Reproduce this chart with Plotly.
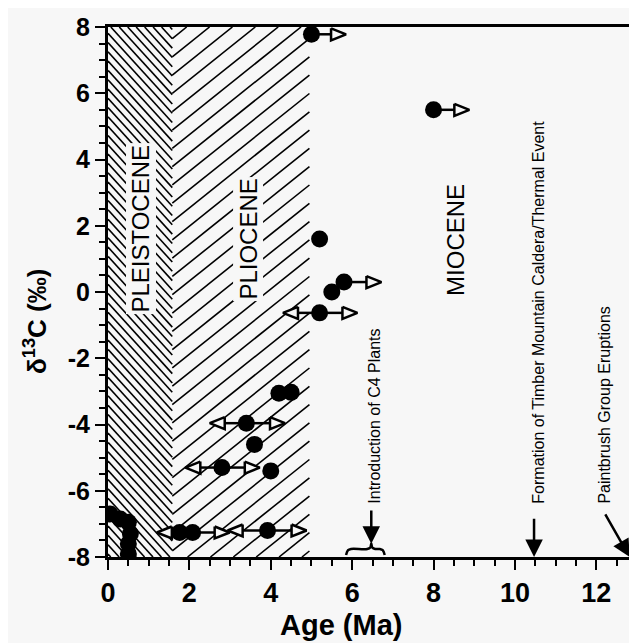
import plotly.graph_objects as go

# ---------------- data ----------------
age = [5.0, 8.0, 5.2, 5.5, 5.8, 5.2, 4.2, 4.5, 3.4, 3.6, 2.8, 4.0,
       1.76, 2.08, 3.92, 0.05, 0.3, 0.5, 0.55, 0.5, 0.5]
d13c = [7.78, 5.5, 1.6, 0.0, 0.3, -0.63, -3.06, -3.03, -3.96, -4.6, -5.3, -5.4,
        -7.26, -7.26, -7.2, -6.7, -6.85, -6.95, -7.3, -7.6, -7.9]
# age-range arrow tips (None = no arrow)
arrow_left = [None, None, None, None, None, 4.3, None, None, 2.5, None, 1.9, None,
              1.2, None, 2.94, None, None, None, None, None, None]
arrow_right = [5.85, 8.88, None, None, 6.72, 6.13, None, None, 4.35, None, 3.73, None,
               None, 2.99, 4.88, None, None, None, None, None, None]

epoch_names = ["PLEISTOCENE", "PLIOCENE", "MIOCENE"]
epoch_label_x = [0.8, 3.43, 8.55]
epoch_label_y = [1.9, 1.6, 1.57]
pleistocene_span = [0.0, 1.58]
pliocene_span = [1.58, 4.95]

event_names = ["Introduction of C4 Plants",
               "Formation of Timber Mountain Caldera/Thermal Event",
               "Paintbrush Group Eruptions"]
event_label_x = [6.55, 10.58, 12.2]
event_arrow_tail = [(6.47, -6.55), (10.47, -6.8), (12.2, -6.67)]
event_arrow_head = [(6.47, -7.6), (10.47, -8.0), (12.82, -8.0)]
brace_span = [5.85, 6.8]
brace_tip = 6.47

x_range = [0, 13]
y_range = [-8, 8]
x_ticks = [0, 2, 4, 6, 8, 10, 12]
x_tick_labels = ["0", "2", "4", "6", "8", "10", "12"]
y_ticks = [-8, -6, -4, -2, 0, 2, 4, 6, 8]
y_tick_labels = ["-8", "-6", "-4", "-2", "0", "2", "4", "6", "8"]

# ---------------- layout geometry ----------------
OFF = 8                      # page body margin
WIN_W, WIN_H = 637, 643
plot_l, plot_t, plot_r, plot_b = 108, 27, 637, 557   # plot area in window px
ml, mt = plot_l - OFF, plot_t - OFF
W = plot_r - OFF
mr = 0
H = WIN_H - OFF
mb = H - (plot_b - OFF)
pw, ph = plot_r - plot_l, plot_b - plot_t
ux = (x_range[1] - x_range[0]) / pw   # data per px
uy = (y_range[1] - y_range[0]) / ph


def paper_x(win_px):
    return (win_px - plot_l) / pw


def paper_y(win_py):
    return (plot_b - win_py) / ph


BG = "#f7f7f7"
FONT = "Liberation Sans, Arial, sans-serif"

fig = go.Figure()


def hatch(span, slope, spacing, phase=0.0):
    """Diagonal hatch lines (pixel-space slope / vertical spacing) clipped to a span."""
    wr = (span[1] - span[0]) / ux
    hr = (y_range[1] - y_range[0]) / uy
    xs, ys = [], []
    c_min = min(0, -slope * wr) - spacing
    c_max = max(hr, hr - slope * wr) + spacing
    c = c_min + phase
    while c <= c_max:
        ua, ub = (0 - c) / slope, (hr - c) / slope
        lo, hi = max(0.0, min(ua, ub)), min(wr, max(ua, ub))
        if hi - lo > 0.5:
            for u in (lo, hi):
                xs.append(span[0] + u * ux)
                ys.append(y_range[0] + (slope * u + c) * uy)
            xs.append(None)
            ys.append(None)
        c += spacing
    return xs, ys


hx1, hy1 = hatch(pleistocene_span, -1.1, 9.3, 3.0)
fig.add_trace(go.Scatter(x=hx1, y=hy1, mode="lines",
                         line=dict(color="black", width=1.6),
                         hoverinfo="skip", showlegend=False))
hx2, hy2 = hatch(pliocene_span, 0.8, 18.3, 6.0)
fig.add_trace(go.Scatter(x=hx2, y=hy2, mode="lines",
                         line=dict(color="black", width=1.6),
                         hoverinfo="skip", showlegend=False))

# arrow shafts and open triangle heads
tri_len = 15 * ux
tri_half = 6 * uy
shaft_x, shaft_y, tri_x, tri_y = [], [], [], []
for x, y, l, r in zip(age, d13c, arrow_left, arrow_right):
    for tip, sgn in ((l, -1), (r, 1)):
        if tip is None:
            continue
        base = tip - sgn * tri_len
        shaft_x += [x, base, None]
        shaft_y += [y, y, None]
        tri_x += [base, tip, base, base, None]
        tri_y += [y + tri_half, y, y - tri_half, y + tri_half, None]

fig.add_trace(go.Scatter(x=shaft_x, y=shaft_y, mode="lines",
                         line=dict(color="black", width=2.5),
                         hoverinfo="skip", showlegend=False))
fig.add_trace(go.Scatter(x=tri_x, y=tri_y, mode="lines", fill="toself",
                         fillcolor=BG, line=dict(color="black", width=2.5),
                         hoverinfo="skip", showlegend=False))

# data points
fig.add_trace(go.Scatter(x=age, y=d13c, mode="markers",
                         marker=dict(color="black", size=17, line=dict(width=0)),
                         showlegend=False))

# brace near C4 arrow
b0, b1 = brace_span
by0 = y_range[0] + 2 * uy
bh = 6 * uy
brace_x = [b0, b0 + 2 * ux, b0 + 5 * ux, brace_tip - 4 * ux, brace_tip - 1 * ux, brace_tip,
           brace_tip + 1 * ux, brace_tip + 4 * ux, b1 - 5 * ux, b1 - 2 * ux, b1]
brace_y = [by0, by0 + bh * 0.8, by0 + bh, by0 + bh, by0 + bh * 1.25, by0 + bh * 1.9,
           by0 + bh * 1.25, by0 + bh, by0 + bh, by0 + bh * 0.8, by0]
fig.add_trace(go.Scatter(x=brace_x, y=brace_y, mode="lines",
                         line=dict(color="black", width=2.5, shape="spline"),
                         hoverinfo="skip", showlegend=False))

annotations = []
for name, x, y in zip(epoch_names, epoch_label_x, epoch_label_y):
    annotations.append(dict(x=x, y=y, xref="x", yref="y", text=name, textangle=-90,
                            showarrow=False, xanchor="center", yanchor="middle",
                            bgcolor=BG if name != "MIOCENE" else None,
                            font=dict(family=FONT, size=24, color="black")))
for name, x in zip(event_names, event_label_x):
    annotations.append(dict(x=x, y=-6.45, xref="x", yref="y", text=name, textangle=-90,
                            showarrow=False, xanchor="center", yanchor="bottom",
                            font=dict(family=FONT, size=16, color="black")))
for (tx, ty), (hx, hy) in zip(event_arrow_tail, event_arrow_head):
    annotations.append(dict(x=hx, y=hy, ax=tx, ay=ty, xref="x", yref="y",
                            axref="x", ayref="y", text="", showarrow=True,
                            arrowhead=2, arrowsize=1.4, arrowwidth=2.5,
                            arrowcolor="black", standoff=0))

# axis titles
annotations.append(dict(x=paper_x(341), y=paper_y(625), xref="paper", yref="paper",
                        text="<b>Age (Ma)</b>", showarrow=False,
                        xanchor="center", yanchor="middle",
                        font=dict(family=FONT, size=29, color="black")))
annotations.append(dict(x=paper_x(35), y=paper_y(322), xref="paper", yref="paper",
                        text="<b>δ<sup>13</sup>C (‰)</b>", textangle=-90, showarrow=False,
                        xanchor="center", yanchor="middle",
                        font=dict(family=FONT, size=26, color="black")))

axis_common = dict(showgrid=False, zeroline=False, showline=True, linecolor="black",
                   linewidth=3, ticks="outside", tickcolor="black", tickwidth=2,
                   ticklen=10, automargin=False)

fig.update_layout(
    width=W, height=H,
    margin=dict(l=ml, r=mr, t=mt, b=mb, autoexpand=False),
    paper_bgcolor=BG, plot_bgcolor=BG,
    annotations=annotations,
    xaxis=dict(range=x_range, tickvals=x_ticks, ticktext=x_tick_labels, mirror=True,
               tickfont=dict(family=FONT, size=27, color="black", weight="bold"),
               minor=dict(dtick=0.5, ticks="outside", ticklen=6, tickwidth=2,
                          tickcolor="black"),
               **axis_common),
    yaxis=dict(range=y_range, tickvals=y_ticks, ticktext=y_tick_labels,
               tickfont=dict(family=FONT, size=25, color="black", weight="bold"),
               minor=dict(dtick=0.5, ticks="outside", ticklen=6, tickwidth=2,
                          tickcolor="black"),
               **axis_common),
)

fig.write_html("out.html")
